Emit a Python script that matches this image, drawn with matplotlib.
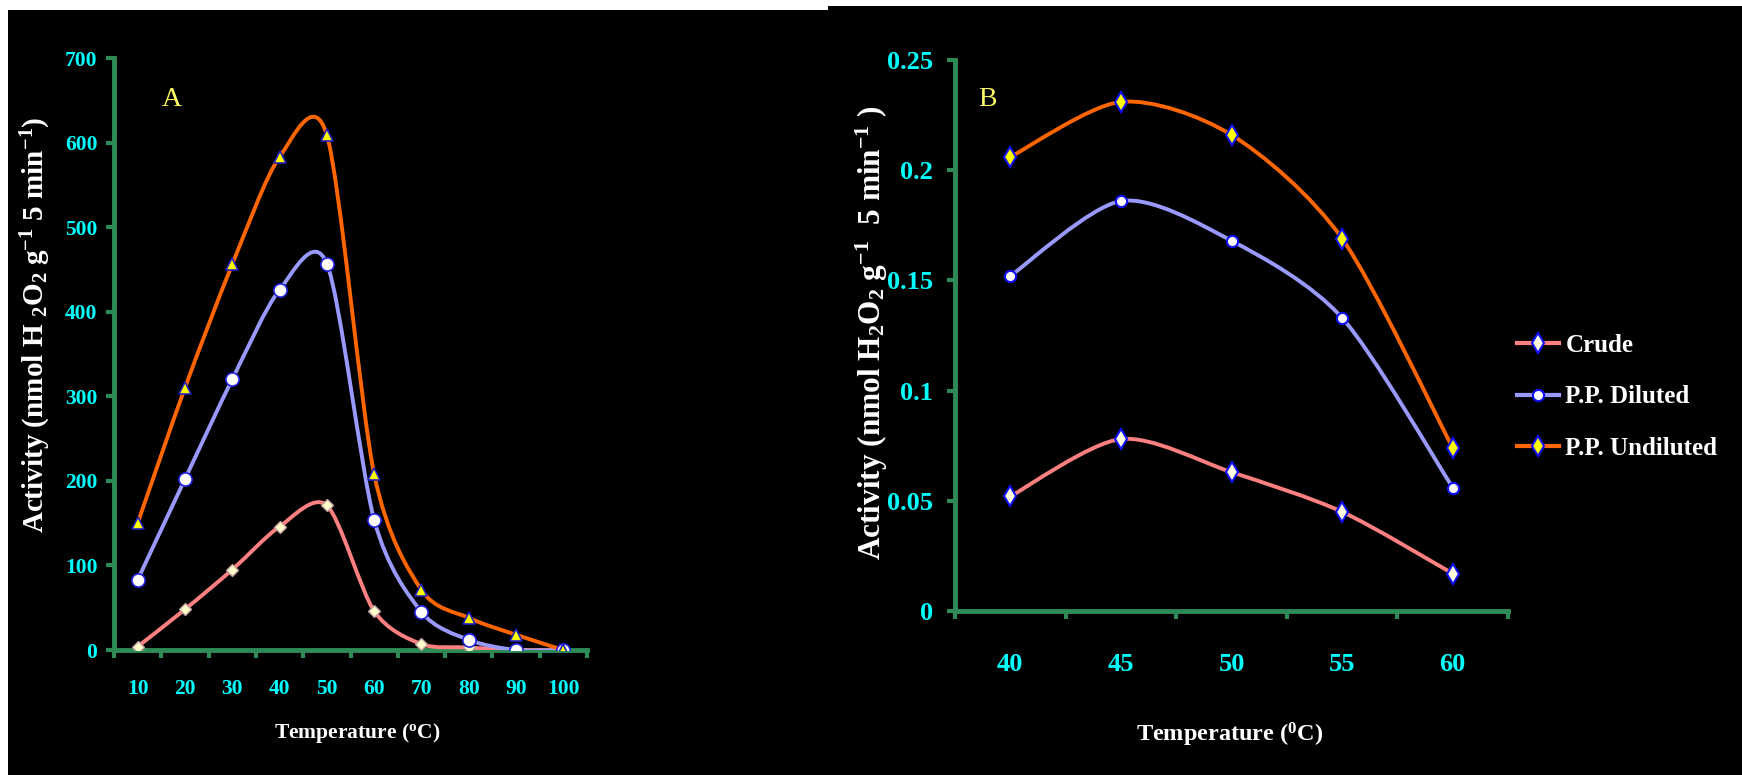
import numpy as np
import matplotlib
matplotlib.use("Agg")
import matplotlib.pyplot as plt
from matplotlib.path import Path
from matplotlib.patches import PathPatch, Rectangle
from matplotlib.lines import Line2D

plt.rcParams['font.family'] = ['Liberation Serif', 'DejaVu Serif']
plt.rcParams['font.weight'] = 'bold'
plt.rcParams['mathtext.fontset'] = 'custom'
plt.rcParams['mathtext.rm'] = 'Liberation Serif:bold'
plt.rcParams['mathtext.it'] = 'Liberation Serif:bold'
plt.rcParams['mathtext.bf'] = 'Liberation Serif:bold'

# ---- data: panel A ----
temp_a = [10, 20, 30, 40, 50, 60, 70, 80, 90, 100]
crude_a = [4, 48, 95, 146, 171, 46, 7, 3, 0, 0]
diluted_a = [83, 202, 320, 426, 457, 154, 45, 12, 0, 0]
undiluted_a = [150, 310, 456, 583, 609, 208, 71, 38, 18, 0]

# ---- data: panel B ----
temp_b = [40, 45, 50, 55, 60]
crude_b = [0.052, 0.078, 0.063, 0.045, 0.017]
diluted_b = [0.152, 0.186, 0.168, 0.133, 0.056]
undiluted_b = [0.206, 0.231, 0.216, 0.169, 0.074]

labels = ['Crude', 'P.P. Diluted', 'P.P. Undiluted']
line_colors = ['#FF8080', '#9999FF', '#FF6600']
green = '#2E8B57'
cyan = '#00FFFF'


def smooth_path(x, y, t=0.14):
    # Excel-style smoothed line as cubic Bezier segments through the points
    p = np.column_stack([x, y]).astype(float)
    n = len(p)
    verts = [p[0]]
    codes = [Path.MOVETO]
    for i in range(n - 1):
        p_prev = p[i - 1] if i > 0 else p[i]
        p_next2 = p[i + 2] if i + 2 < n else p[i + 1]
        c1 = p[i] + (p[i + 1] - p_prev) * t
        c2 = p[i + 1] - (p_next2 - p[i]) * t
        verts += [c1, c2, p[i + 1]]
        codes += [Path.CURVE4] * 3
    return Path(verts, codes)


fig = plt.figure(figsize=(17.42, 7.75), dpi=100, facecolor='black')
# white strips along the top and left edges
fig.patches.append(Rectangle((0, 1 - 10/775), 828/1742, 10/775, transform=fig.transFigure,
                             facecolor='white', edgecolor='none', zorder=0))
fig.patches.append(Rectangle((828/1742, 1 - 6/775), 1, 6/775, transform=fig.transFigure,
                             facecolor='white', edgecolor='none', zorder=0))
fig.patches.append(Rectangle((0, 0), 8/1742, 1, transform=fig.transFigure,
                             facecolor='white', edgecolor='none', zorder=0))

ax1 = fig.add_axes([114/1742, 1 - 650/775, 473/1742, 592/775])
ax2 = fig.add_axes([955/1742, 1 - 611/775, 553/1742, 551/775])

for ax in (ax1, ax2):
    ax.set_facecolor('none')
    for s in ('top', 'right'):
        ax.spines[s].set_visible(False)
    for s in ('left', 'bottom'):
        ax.spines[s].set_color(green)
        ax.spines[s].set_linewidth(3.5)
        ax.spines[s].set_zorder(1)

# ---- panel A ----
a_series = [crude_a, diluted_a, undiluted_a]
a_markers = [dict(marker='D', markersize=6, markerfacecolor='#FFFFCC', markeredgecolor='#C0A0A0', markeredgewidth=1),
             dict(marker='o', markersize=9.5, markerfacecolor='white', markeredgecolor='#2020E0', markeredgewidth=1.2),
             dict(marker='^', markersize=8, markerfacecolor='#FFFF00', markeredgecolor='#2020C0', markeredgewidth=1.2)]
for ys, col, mk in zip(a_series, line_colors, a_markers):
    ax1.add_patch(PathPatch(smooth_path(temp_a, ys), facecolor='none', edgecolor=col,
                            linewidth=2.8, capstyle='round', joinstyle='round', zorder=3))
    ax1.plot(temp_a, ys, ls='none', zorder=4, **mk)

ax1.set_xlim(5, 105)
ax1.set_ylim(0, 700)
ax1.set_yticks(np.arange(0, 701, 100))
ax1.set_xticks(np.arange(5, 106, 10))
ax1.set_xticklabels([])
ax1.set_xticks(temp_a, minor=True)
ax1.set_xticklabels([str(v) for v in temp_a], minor=True)
ax1.tick_params(axis='x', which='major', direction='out', length=6, width=3, color=green)
ax1.tick_params(axis='x', which='minor', length=0, pad=21, labelsize=15.5, labelcolor=cyan)
ax1.tick_params(axis='y', direction='out', length=6, width=3, color=green, pad=6,
                labelsize=15.5, labelcolor=cyan)
for lab in ax1.get_xticklabels(minor=True) + ax1.get_yticklabels():
    lab.set_fontweight('bold')
ax1.text(172/1742, 1 - 100/775, 'A', transform=fig.transFigure, color='#FFFF66',
         fontsize=20, fontweight='normal', ha='center', va='center')
fig.text(357/1742, 1 - 733/775, 'Temperature ($^{o}$C)', color='white', fontsize=15.5,
         ha='center', va='center')
fig.text(36/1742, 1 - 325/775, 'Activity (nmol H $_{2}$O$_{2}$ g$^{-1}$ 5 min$^{-1}$)',
         color='white', fontsize=21, rotation=90, ha='center', va='center')

# ---- panel B ----
b_series = [crude_b, diluted_b, undiluted_b]
b_markers = [dict(marker='d', markersize=10, markerfacecolor='#FFFFE0', markeredgecolor='#1010FF', markeredgewidth=1.5),
             dict(marker='o', markersize=8, markerfacecolor='white', markeredgecolor='#1010FF', markeredgewidth=1.5),
             dict(marker='d', markersize=10, markerfacecolor='#FFFF00', markeredgecolor='#1010FF', markeredgewidth=1.5)]
handles = []
for ys, col, mk, lab in zip(b_series, line_colors, b_markers, labels):
    ax2.add_patch(PathPatch(smooth_path(temp_b, ys), facecolor='none', edgecolor=col,
                            linewidth=2.8, capstyle='round', joinstyle='round', zorder=3))
    ax2.plot(temp_b, ys, ls='none', zorder=4, **mk)
    handles.append(Line2D([], [], color=col, linewidth=3, label=lab, **mk))

ax2.set_xlim(37.5, 62.5)
ax2.set_ylim(0, 0.25)
ax2.set_yticks([0, 0.05, 0.1, 0.15, 0.2, 0.25])
ax2.set_yticklabels(['0', '0.05', '0.1', '0.15', '0.2', '0.25'])
ax2.set_xticks(np.arange(37.5, 63, 5))
ax2.set_xticklabels([])
ax2.set_xticks(temp_b, minor=True)
ax2.set_xticklabels([str(v) for v in temp_b], minor=True)
ax2.tick_params(axis='x', which='major', direction='out', length=6, width=3, color=green)
ax2.tick_params(axis='x', which='minor', length=0, pad=30, labelsize=19, labelcolor=cyan)
ax2.tick_params(axis='y', direction='out', length=6, width=3, color=green, pad=10,
                labelsize=19, labelcolor=cyan)
ax2.text(987/1742, 1 - 100/775, 'B', transform=fig.transFigure, color='#FFFF66',
         fontsize=20, fontweight='normal', ha='center', va='center')
fig.text(1230/1742, 1 - 735/775, 'Temperature ($^{0}$C)', color='white', fontsize=17.5,
         ha='center', va='center')
fig.text(872/1742, 1 - 333/775, 'Activity (nmol H$_{2}$O$_{2}$ g$^{-1}$  5 min$^{-1}$ )',
         color='white', fontsize=22.5, rotation=90, ha='center', va='center')

fig.legend(handles=handles, loc='upper left', bbox_to_anchor=(1494/1742, 1 - 311/775),
           frameon=False, fontsize=18, labelcolor='white', handlelength=1.7,
           handletextpad=0.25, labelspacing=1.15, markerscale=1.0)

fig.savefig('out.png', dpi=100, facecolor='black')
